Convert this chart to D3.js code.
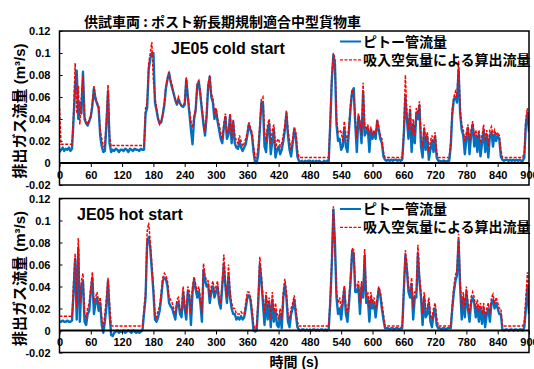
<!DOCTYPE html>
<html>
<head>
<meta charset="utf-8">
<script src="https://cdn.jsdelivr.net/npm/d3@7"></script>
<style>
  body { margin: 0; background: #fff; }
  svg { display: block; }
  text { font-family: "Liberation Sans", Arial, "Noto Sans CJK JP", sans-serif; font-weight: bold; fill: #000; }
  .jp { font-family: "Noto Sans CJK JP", "Liberation Sans", sans-serif; }
</style>
</head>
<body>
<svg id="chart" width="534" height="369"></svg>
<script>
// exhaust flow, sampled every 3 s, in L/s (= 0.001 m3/s)
const sampleStep = 3;

// JE05 cold start - pitot tube flow
const coldPitot = [
  10,12,14,11,13,12,14,11,13,40,   // 0
  70,84,40,55,45,83,40,36,34,38,   // 30
  42,52,68,58,54,50,25,15,10,11,   // 60
  35,65,18,10,12,11,13,12,10,12,   // 90
  12,11,13,12,10,13,12,11,13,12,   // 120
  12,11,13,12,12,45,50,85,95,100,  // 150
  100,55,48,40,36,37,44,53,68,76,  // 180
  82,74,68,63,57,53,58,54,52,51,   // 210
  53,76,60,45,30,17,40,48,70,74,   // 240
  62,48,35,25,42,70,78,60,55,40,   // 270
  48,38,30,22,18,32,42,22,26,43,   // 300
  18,37,18,14,13,20,14,11,14,17,   // 330
  25,35,30,25,10,0,0,8,30,55,      // 360
  55,15,10,30,36,8,20,30,5,12,     // 390
  15,8,12,20,30,45,25,12,6,18,     // 420
  30,24,6,2,1,2,0,2,1,2,           // 450
  2,1,2,0,2,1,2,1,0,2,             // 480
  1,2,1,35,75,98,90,35,20,22,      // 510
  12,15,32,15,10,30,50,65,68,35,   // 540
  10,42,35,18,65,25,28,32,10,30,   // 570
  22,28,22,38,30,22,18,6,3,2,      // 600
  3,2,3,2,3,3,2,3,2,3,             // 630
  25,60,40,22,48,10,35,18,45,40,   // 660
  52,15,5,30,12,24,3,12,20,10,     // 690
  24,5,2,2,1,2,2,1,2,2,            // 720
  15,45,58,60,55,85,45,30,25,8,    // 750
  22,32,8,25,35,15,25,10,26,6,     // 780
  18,30,10,25,5,25,28,15,26,20,    // 810
  25,22,6,3,2,3,3,2,3,2,           // 840
  3,2,3,2,3,2,2,5,35,45,28         // 870
];

// JE05 cold start - flow calculated from intake air
const coldCalc = [
  50,17,17,17,17,17,17,17,17,45,
  91,45,70,35,60,80,42,38,35,40,
  43,55,70,60,55,52,30,22,15,16,
  40,71,25,15,16,16,16,16,16,16,
  16,16,16,16,16,16,16,16,16,16,
  16,16,16,16,16,50,55,90,100,110,
  75,60,50,40,35,38,45,55,70,78,
  82,75,70,62,58,55,60,55,52,52,
  55,78,62,48,38,32,42,50,72,75,
  65,50,38,28,45,72,80,62,60,45,
  50,40,35,28,22,35,45,28,30,45,
  22,40,25,20,18,25,20,15,18,22,
  28,37,32,28,15,5,5,15,35,58,
  60,28,20,35,40,18,30,35,12,20,
  22,15,18,25,35,48,30,20,12,22,
  33,28,12,5,5,5,5,5,5,5,
  5,5,5,5,5,5,5,5,5,5,
  5,5,5,40,80,100,95,40,28,30,
  28,20,38,25,20,35,55,67,62,40,
  22,45,38,25,73,35,30,35,25,33,
  25,30,25,40,33,25,22,10,5,5,
  5,5,5,5,5,5,5,5,5,5,
  30,80,45,30,52,25,40,25,50,45,
  56,25,15,35,20,28,10,20,25,18,
  28,10,5,5,5,5,5,5,5,5,
  20,50,60,65,60,93,50,35,30,20,
  28,35,20,30,38,25,30,22,30,18,
  25,35,20,30,15,30,33,25,30,25,
  28,25,12,5,5,5,5,5,5,5,
  5,5,5,5,5,5,5,10,40,50,30
];

// JE05 hot start - pitot tube flow
const hotPitot = [
  8,8,9,8,8,9,8,8,9,35,
  65,10,75,8,40,45,8,5,15,18,
  35,48,15,25,30,18,25,5,-2,8,
  22,45,15,-4,-5,-2,-1,0,-2,-1,
  -1,0,-2,-1,0,-1,-2,0,-1,-2,
  -1,-2,-1,0,15,30,80,85,75,55,
  35,10,8,12,18,30,45,48,47,40,
  25,22,20,15,10,24,26,15,12,35,
  20,10,35,30,5,35,46,38,30,35,
  25,8,55,46,40,42,25,35,40,30,
  35,40,25,20,40,60,40,25,50,30,
  20,15,15,10,12,10,13,10,12,20,
  30,32,28,15,0,-1,0,25,60,45,
  25,5,30,10,25,3,28,8,18,5,
  3,15,2,30,42,30,8,3,15,20,
  28,15,3,1,0,1,1,0,1,0,
  1,0,1,1,0,1,0,1,1,0,
  1,0,1,25,60,110,80,30,15,20,
  10,25,38,15,8,25,45,72,70,35,
  35,40,15,40,30,68,25,30,8,30,
  20,25,12,25,38,32,20,10,2,2,
  2,1,2,2,1,2,2,1,2,2,
  35,68,55,35,30,42,10,30,30,70,
  45,30,5,30,12,15,25,8,3,15,
  20,5,2,2,1,2,2,1,2,2,
  2,20,35,45,50,82,40,10,30,12,
  35,20,8,25,30,25,12,22,8,20,
  6,20,3,15,20,8,25,28,20,25,
  20,15,15,1,0,1,1,0,1,1,
  0,1,1,0,1,1,0,3,20,40,15
];

// JE05 hot start - flow calculated from intake air
const hotCalc = [
  13,13,13,13,13,13,13,13,13,45,
  70,20,84,25,45,52,15,12,20,25,
  40,53,25,30,35,25,30,12,3,15,
  30,48,25,5,4,4,4,4,4,4,
  4,4,4,4,4,4,4,4,4,4,
  4,4,4,4,20,35,90,98,80,60,
  40,15,12,18,22,35,48,52,50,45,
  30,28,25,20,15,28,30,20,18,40,
  25,15,40,35,15,40,49,42,35,40,
  30,15,61,50,45,45,30,40,45,35,
  40,45,30,25,45,69,45,30,60,35,
  25,20,20,15,15,15,17,15,15,25,
  35,35,30,20,5,2,5,30,67,50,
  30,15,35,20,30,10,35,15,25,15,
  10,20,10,35,47,35,15,10,20,25,
  32,20,8,4,4,4,4,4,4,4,
  4,4,4,4,4,4,4,4,4,4,
  4,4,4,30,65,113,75,35,25,30,
  20,30,41,22,15,30,50,75,73,40,
  40,45,25,45,35,74,30,35,20,35,
  25,30,20,30,40,35,25,15,4,4,
  4,4,4,4,4,4,4,4,4,4,
  40,73,60,40,35,48,20,35,35,78,
  50,35,15,35,20,20,30,15,10,20,
  25,12,4,4,4,4,4,4,4,4,
  4,25,40,50,55,88,45,20,35,20,
  40,25,15,30,35,30,20,28,18,25,
  15,25,12,20,25,15,30,33,25,30,
  25,20,20,4,4,4,4,4,4,4,
  4,4,4,4,4,4,4,8,30,53,20
];

const xTicks = [0, 60, 120, 180, 240, 300, 360, 420, 480, 540, 600, 660, 720, 780, 840, 900];
const yTicks = [-0.02, 0, 0.02, 0.04, 0.06, 0.08, 0.1, 0.12];
const yTickLabels = ['-0.02', '0', '0.02', '0.04', '0.06', '0.08', '0.1', '0.12'];
const seriesNames = ['ピトー管流量', '吸入空気量による算出流量'];
const panelNames = ['JE05 cold start', 'JE05 hot start'];
const titleText = '供試車両 : ポスト新長期規制適合中型貨物車';
const yTitle = '排出ガス流量 (m³/s)';
const xTitle = '時間 (s)';

const blue = '#0070c0';
const red = '#ff0000';

const svg = d3.select('#chart');
const left = 59.5, right = 529;

const x = d3.scaleLinear().domain([0, 900]).range([left, right]);

const panels = [
  { name: panelNames[0], pitot: coldPitot, calc: coldCalc, top: 31, bottom: 185, labelX: 171, labelY: 54 },
  { name: panelNames[1], pitot: hotPitot, calc: hotCalc, top: 198.5, bottom: 352.5, labelX: 77, labelY: 220 }
];

svg.append('text')
  .attr('class', 'jp')
  .attr('x', 84).attr('y', 27)
  .attr('font-size', 14)
  .text(titleText);

panels.forEach((p, pi) => {
  const y = d3.scaleLinear().domain([-0.02, 0.12]).range([p.bottom, p.top]);
  const g = svg.append('g');

  const clipId = 'clip' + pi;
  svg.append('clipPath').attr('id', clipId)
    .append('rect')
    .attr('x', left).attr('y', p.top)
    .attr('width', right - left).attr('height', p.bottom - p.top);

  // y ticks (inside) + labels
  const yAxis = d3.axisLeft(y).tickValues(yTicks).tickSize(-3)
    .tickFormat((d, i) => yTickLabels[i]).tickPadding(9);
  g.append('g')
    .attr('transform', `translate(${left},0)`)
    .call(yAxis)
    .call(a => a.select('.domain').remove())
    .call(a => a.selectAll('line').attr('stroke', '#000').attr('stroke-width', 1))
    .call(a => a.selectAll('text').attr('font-size', 11)
      .attr('font-family', '"Liberation Sans", Arial, sans-serif').attr('font-weight', 'bold'));

  const line = d3.line()
    .x((d, i) => x(i * sampleStep))
    .y(d => y(d / 1000));

  const lines = g.append('g').attr('clip-path', `url(#${clipId})`);
  lines.append('path')
    .datum(p.pitot)
    .attr('fill', 'none')
    .attr('stroke', blue)
    .attr('stroke-width', 2.4)
    .attr('stroke-linejoin', 'round')
    .attr('d', line);
  lines.append('path')
    .datum(p.calc)
    .attr('fill', 'none')
    .attr('stroke', red)
    .attr('stroke-width', 1.5)
    .attr('stroke-dasharray', '3,1.5')
    .attr('d', line);

  // x axis along zero
  const xAxis = d3.axisBottom(x).tickValues(xTicks).tickSize(4).tickPadding(4);
  g.append('g')
    .attr('transform', `translate(0,${y(0)})`)
    .call(xAxis)
    .call(a => a.select('.domain').attr('stroke', '#000').attr('stroke-width', 2)
      .attr('d', `M${left},0H${right}`))
    .call(a => a.selectAll('line').attr('stroke', '#000').attr('stroke-width', 1))
    .call(a => a.selectAll('text').attr('font-size', 11)
      .attr('font-family', '"Liberation Sans", Arial, sans-serif').attr('font-weight', 'bold'));

  // plot frame
  g.append('rect')
    .attr('x', left).attr('y', p.top)
    .attr('width', right - left).attr('height', p.bottom - p.top)
    .attr('fill', 'none').attr('stroke', '#000').attr('stroke-width', 1.5);

  g.append('text')
    .attr('x', p.labelX).attr('y', p.labelY)
    .attr('font-size', 16)
    .text(p.name);

  // legend
  const lg = g.append('g');
  const ly = [p.top + 10.5, p.top + 28.8];
  lg.append('line').attr('x1', 340).attr('x2', 361).attr('y1', ly[0]).attr('y2', ly[0])
    .attr('stroke', blue).attr('stroke-width', 2);
  lg.append('line').attr('x1', 340).attr('x2', 361).attr('y1', ly[1]).attr('y2', ly[1])
    .attr('stroke', red).attr('stroke-width', 1.3).attr('stroke-dasharray', '3,1.5');
  seriesNames.forEach((s, i) => {
    lg.append('text').attr('class', 'jp')
      .attr('x', 363).attr('y', ly[i] + 5)
      .attr('font-size', 14)
      .text(s);
  });

  // y title
  svg.append('text')
    .attr('transform', `translate(25,${(p.top + p.bottom) / 2 + 3}) rotate(-90)`)
    .attr('text-anchor', 'middle')
    .attr('font-size', 15)
    .text(yTitle);
});

svg.append('text')
  .attr('x', 294).attr('y', 367)
  .attr('text-anchor', 'middle')
  .attr('font-size', 14)
  .text(xTitle);
</script>
</body>
</html>
